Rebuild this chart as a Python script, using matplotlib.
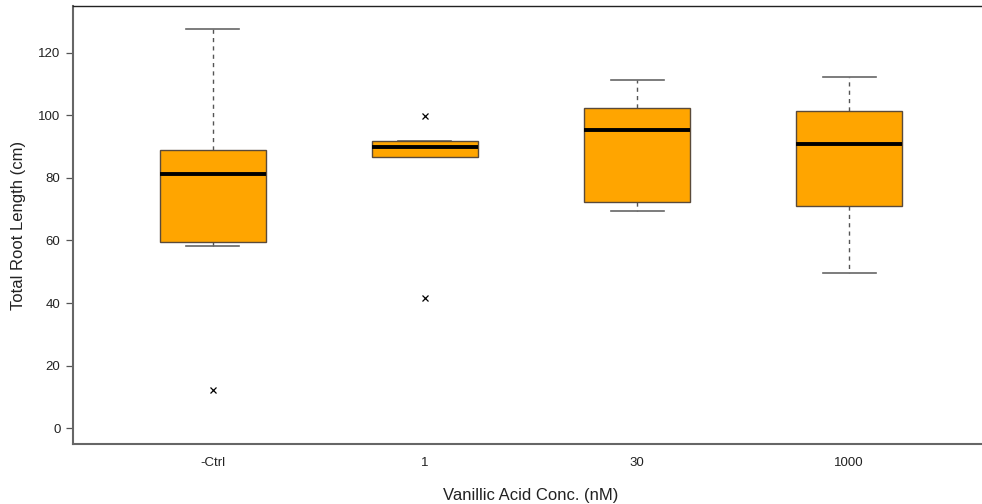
import matplotlib
matplotlib.use("Agg")
import matplotlib.pyplot as plt

categories = ["-Ctrl", "1", "30", "1000"]
whis_lo = [58.2, 86.7, 69.4, 49.6]
q1 = [59.5, 86.7, 72.3, 71.0]
median = [81.3, 89.8, 95.4, 90.9]
q3 = [89.0, 91.9, 102.4, 101.4]
whis_hi = [127.7, 91.9, 111.4, 112.3]
outliers = [[12.2], [99.8, 41.6], [], []]
y_ticks = [0, 20, 40, 60, 80, 100, 120]

plt.rcParams['font.family'] = ['Liberation Sans', 'DejaVu Sans']

fig = plt.figure(figsize=(9.82, 5.04), dpi=100)
ax = fig.add_axes([73/982, 1-444/504, (989-73)/982, (444-6)/504])

stats = []
for i, c in enumerate(categories):
    stats.append(dict(label=c, whislo=whis_lo[i], q1=q1[i], med=median[i],
                      q3=q3[i], whishi=whis_hi[i], fliers=outliers[i]))

pos = list(range(1, len(categories) + 1))
ax.bxp(stats, positions=pos, widths=0.5, patch_artist=True, showfliers=True,
       boxprops=dict(facecolor='#FFA500', edgecolor='#5a4a3a', linewidth=1.0, zorder=3),
       medianprops=dict(color='black', linewidth=2.8, solid_capstyle='butt', zorder=4),
       whiskerprops=dict(color='#555555', linestyle=(0, (3, 3)), linewidth=1.0, zorder=2),
       capprops=dict(color='#666666', linewidth=1.2, zorder=2),
       capwidths=0.25,
       flierprops=dict(marker='x', markersize=4, markeredgecolor='black',
                       markeredgewidth=0.9, linestyle='none'))

ax.set_xlim(0.34, 4.66)
ax.set_ylim(-5.1, 135)
ax.set_yticks(y_ticks)
ax.set_yticklabels([str(t) for t in y_ticks], fontsize=9.5, color='#222222')
ax.set_xticks(pos)
ax.set_xticklabels(categories, fontsize=9.5, color='#222222')
ax.tick_params(axis='x', length=0, pad=9)
ax.tick_params(axis='y', length=5, width=0.9, color='#555555', pad=4)
for s in ax.spines.values():
    s.set_color('#222222')
    s.set_linewidth(1.0)
ax.spines['bottom'].set_color('#666666')
ax.spines['bottom'].set_linewidth(1.5)
ax.spines['left'].set_color('#666666')
ax.spines['left'].set_linewidth(1.5)

ax.set_ylabel("Total Root Length (cm)", fontsize=12, color='#222222', labelpad=9)
ax.set_xlabel("Vanillic Acid Conc. (nM)", fontsize=12, color='#222222', labelpad=14)

fig.savefig("out.png", dpi=100)
